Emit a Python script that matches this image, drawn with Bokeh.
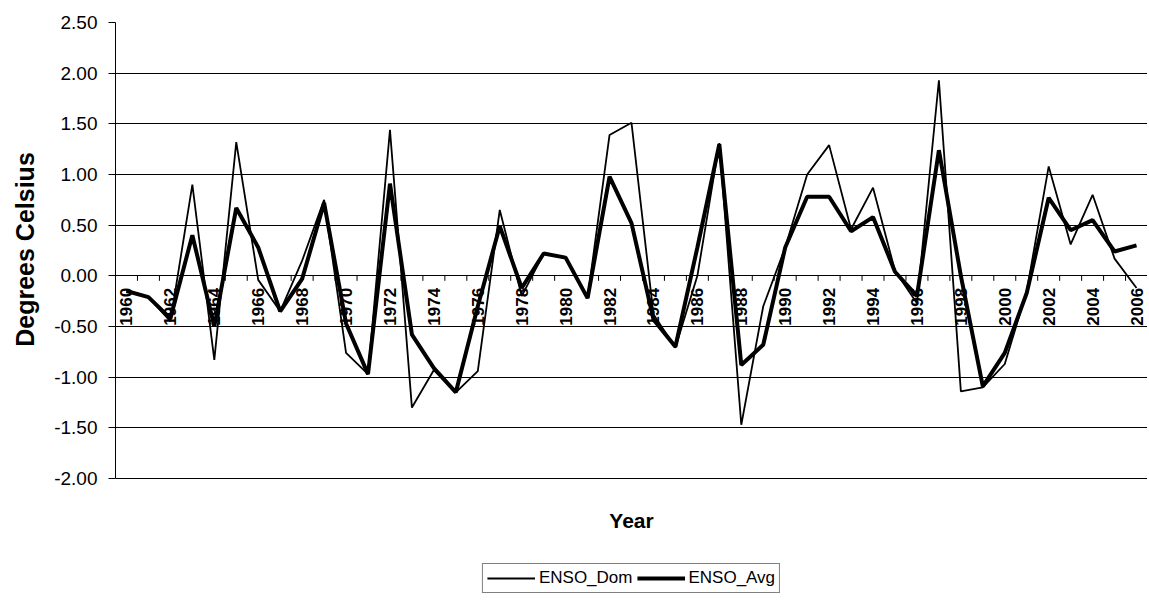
import math
from bokeh.plotting import figure
from bokeh.models import (Range1d, FixedTicker, NumeralTickFormatter, Legend,
                          LegendItem, Label, ColumnDataSource)
from bokeh.core.properties import value
from bokeh.embed import file_html
from bokeh.resources import INLINE

years = list(range(1960, 2007))
enso_dom = [-0.15, -0.21, -0.45, 0.90, -0.83, 1.32, -0.04, -0.35, 0.15, 0.75,
            -0.76, -0.97, 1.44, -1.30, -0.93, -1.15, -0.94, 0.65, -0.20, 0.22,
            0.18, -0.22, 1.39, 1.51, -0.38, -0.71, 0.00, 1.31, -1.47, -0.30,
            0.28, 1.00, 1.29, 0.46, 0.87, 0.05, -0.27, 1.93, -1.14, -1.10,
            -0.87, -0.15, 1.08, 0.31, 0.80, 0.17, -0.12]
enso_avg = [-0.15, -0.21, -0.42, 0.40, -0.50, 0.67, 0.28, -0.35, -0.03, 0.72,
            -0.47, -0.97, 0.91, -0.58, -0.91, -1.15, -0.30, 0.49, -0.12, 0.22,
            0.18, -0.22, 0.98, 0.52, -0.43, -0.70, 0.28, 1.30, -0.88, -0.68,
            0.28, 0.78, 0.78, 0.44, 0.58, 0.04, -0.20, 1.24, 0.00, -1.09,
            -0.76, -0.17, 0.77, 0.45, 0.55, 0.24, 0.30]
y_ticks = [-2.0, -1.5, -1.0, -0.5, 0.0, 0.5, 1.0, 1.5, 2.0, 2.5]
x_label_years = years[::2]
series_names = ["ENSO_Dom", "ENSO_Avg"]

FONT = "Liberation Sans"
W, H = 1147, 601
LEFT, TOP = 115, 22
PX_PER_UNIT = 456 / (y_ticks[-1] - y_ticks[0])   # plot area height for 2.5 .. -2.0
FRAME_H = H - TOP
y_bottom = y_ticks[-1] - FRAME_H / PX_PER_UNIT      # frame extends below -2.0 to hold legend

p = figure(width=W, height=H, output_backend="svg", toolbar_location=None,
           x_range=Range1d(years[0] - 0.5, years[-1] + 0.5),
           y_range=Range1d(y_bottom, y_ticks[-1]),
           min_border_left=LEFT, min_border_right=0, min_border_top=TOP,
           min_border_bottom=0)
p.outline_line_color = None
p.background_fill_color = "white"
p.border_fill_color = "white"
p.xaxis.visible = False

# y axis
p.yaxis.ticker = FixedTicker(ticks=y_ticks)
p.yaxis.bounds = (y_ticks[0], y_ticks[-1])
p.yaxis.formatter = NumeralTickFormatter(format="0.00")
p.yaxis.major_tick_out = 7
p.yaxis.major_tick_in = 0
p.yaxis.minor_tick_out = 0
p.yaxis.minor_tick_in = 0
p.yaxis.axis_line_color = "black"
p.yaxis.major_tick_line_color = "black"
p.yaxis.major_label_text_font = FONT
p.yaxis.major_label_text_font_size = "19px"
p.yaxis.major_label_text_color = "black"
p.yaxis.major_label_standoff = 11
# leading no-break spaces lift the title to the centre of the -2.00..2.50 span
p.yaxis.axis_label = "\u00a0" * 18 + "Degrees Celsius"
p.yaxis.axis_label_text_font = FONT
p.yaxis.axis_label_text_font_size = "25px"
p.yaxis.axis_label_text_font_style = "bold"
p.yaxis.axis_label_text_color = "black"
p.yaxis.axis_label_standoff = 12

# grid
p.xgrid.visible = False
p.ygrid.ticker = FixedTicker(ticks=y_ticks)
p.ygrid.grid_line_color = "black"
p.ygrid.grid_line_alpha = 1.0
p.ygrid.grid_line_width = 1

# category axis crossing at zero: tick marks between categories + labels
tick_len = 5 / PX_PER_UNIT
bounds = [y + 0.5 for y in years[:-1]]
p.segment(x0=bounds, y0=[0] * len(bounds), x1=bounds,
          y1=[-tick_len] * len(bounds), line_color="black", line_width=1)
p.text(x=x_label_years, y=[0] * len(x_label_years),
       text=[str(y) for y in x_label_years], angle=math.pi / 2,
       text_align="right", text_baseline="middle", y_offset=12,
       text_font=value(FONT), text_font_size="17px",
       text_font_style="bold", text_color="black")

src = ColumnDataSource(dict(year=years, dom=enso_dom, avg=enso_avg))
r1 = p.line("year", "dom", source=src, line_color="black", line_width=1.8)
r2 = p.line("year", "avg", source=src, line_color="black", line_width=4)

# "Year" title
p.add_layout(Label(x=(W - LEFT) / 2, y=H - 520, x_units="screen",
                   y_units="screen", text="Year", text_align="center",
                   text_baseline="middle", text_font=FONT,
                   text_font_size="21px", text_font_style="bold",
                   text_color="black"))

legend = Legend(items=[LegendItem(label=series_names[0], renderers=[r1]),
                       LegendItem(label=series_names[1], renderers=[r2])],
                orientation="horizontal", location="bottom_center",
                border_line_color="black", border_line_width=1,
                padding=4, spacing=4, glyph_width=48, label_standoff=4,
                label_text_font=FONT, label_text_font_size="17px",
                label_text_color="black", margin=8)
p.add_layout(legend, "center")

open("out.html", "w").write(file_html(p, INLINE))
